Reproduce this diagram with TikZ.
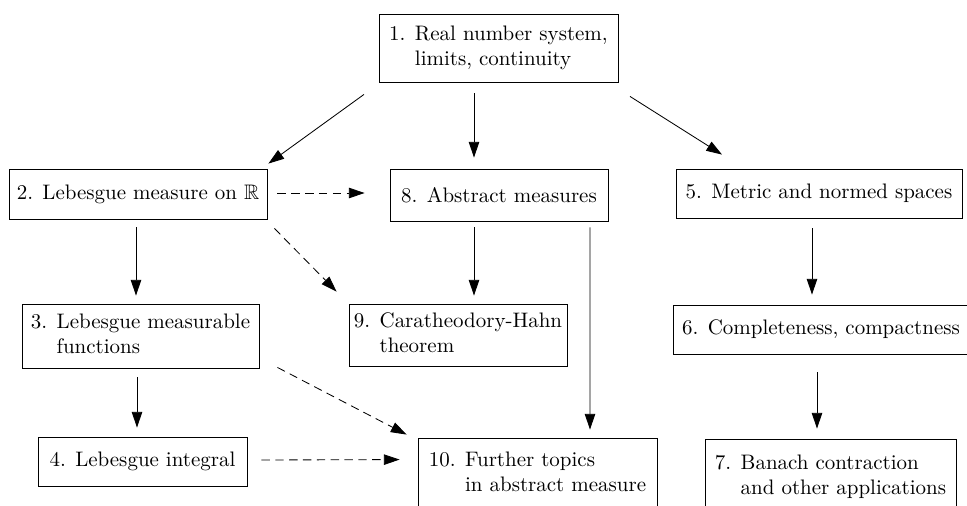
\documentclass[tikz,border=0pt]{standalone}
\usepackage{amsmath}
\usepackage{amssymb,amsfonts}
\usepackage{tikz}
\usetikzlibrary{arrows.meta,positioning}

\newcommand{\pxu}{0.01675cm}
\newcommand{\twoline}[3]{\begin{tabular}{@{}l@{\hspace{0.45em}}l@{}}#1&#2\\&#3\end{tabular}}

\begin{document}
\begin{tikzpicture}[x=\pxu,y=-\pxu,
		box/.style={draw,inner sep=0pt,align=left},
		sz/.style 2 args={minimum width=#1*\pxu,minimum height=#2*\pxu},
		arr/.style={-{Triangle[length=7.5pt,width=5pt]}},
		dsh/.style={arr,dash pattern=on 4pt off 2.6pt}]
		\useasboundingbox (0,0) rectangle (967,506);
		\clip (0,0) rectangle (967,506);
		\node[box,sz={239}{68}]	(real)	at (498.5,48) {\twoline{1.}{Real number system,}{limits, continuity}};
		\node[box,sz={258}{50}]	(leb)	at (138,194) {2. Lebesgue measure on $\mathbb{R}$};
		\node[box,sz={218}{52}]	(abs)	at (499,195) {8. Abstract measures};
		\node[box,sz={286}{49}]	(metric)	at (819,193.5) {5. Metric and normed spaces};
		\node[box,sz={237}{64}]	(lebfun)	at (140.5,336) {\twoline{3.}{Lebesgue measurable}{functions}};
		\node[box,sz={218}{62}]	(carath)	at (458,335) {\twoline{9.}{Caratheodory-Hahn}{theorem}};
		\node[box,sz={296}{49}]	(compl)	at (821,329.5) {6. Completeness, compactness};
		\node[box,sz={209}{49}]	(lebint)	at (142.5,461.5) {4. Lebesgue integral};
		\node[box,sz={239}{72}]	(further)	at (537.5,474) {\twoline{10.}{Further topics}{in abstract measure}};
		\node[box,sz={251}{76}]	(banach)	at (830.5,477) {\twoline{7.}{Banach contraction}{and other applications}};
		\draw[arr] ([shift={(-134.5,12)}]real.south) -- ([shift={(1,-5)}]leb.north east);
		\draw[arr] ([shift={(-24.5,11)}]real.south) -- ([shift={(-25,-11)}]abs.north);
		\draw[arr] ([shift={(131.5,14)}]real.south) -- ([shift={(-97,-14)}]metric.north);
		\draw[arr] ([shift={(-2,8)}]leb.south) -- ([shift={(-4.5,-8)}]lebfun.north);
		\draw[dsh] ([shift={(10,-1)}]leb.east) -- ([shift={(-25,-2)}]abs.west);
		\draw[dsh] ([shift={(7,9)}]leb.south east) -- ([shift={(-12,-12)}]carath.north west);
		\draw[arr] ([shift={(-25,6)}]abs.south) -- ([shift={(16,-8)}]carath.north);
		\draw[arr] ([shift={(91,6)}]abs.south) -- ([shift={(52.5,-8)}]further.north);
		\draw[arr] ([shift={(-7,10)}]metric.south) -- ([shift={(-9,-10)}]compl.north);
		\draw[arr] ([shift={(-3.5,9)}]lebfun.south) -- ([shift={(-5.5,-9)}]lebint.north);
		\draw[dsh] ([shift={(18,-1)}]lebfun.south east) -- ([shift={(-11,-3)}]further.north west);
		\draw[dsh] ([shift={(14,-1.5)}]lebint.east) -- ([shift={(-18,22)}]further.north west);
		\draw[arr] ([shift={(-4,18)}]compl.south) -- ([shift={(-13.5,-10)}]banach.north);
\end{tikzpicture}
\end{document}
